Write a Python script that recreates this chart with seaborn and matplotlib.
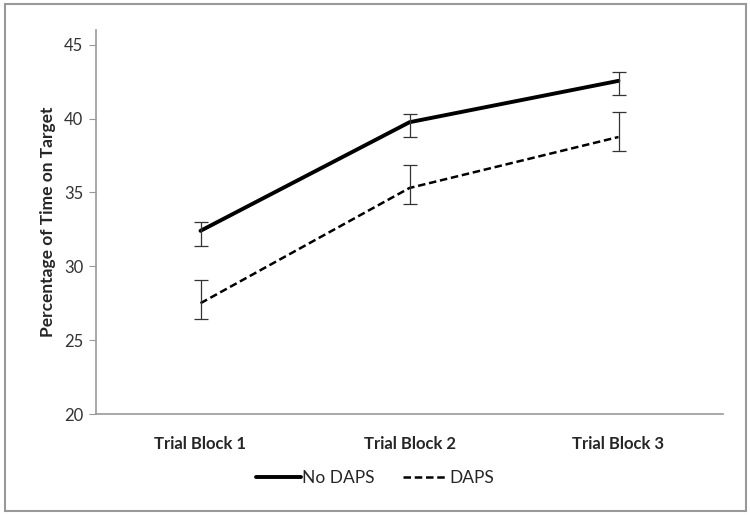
import pandas as pd
import numpy as np
import matplotlib
matplotlib.use('Agg')
import matplotlib.pyplot as plt
import seaborn as sns
from matplotlib.patches import Rectangle
from matplotlib.lines import Line2D

# valores
bloques = ['Trial Block 1', 'Trial Block 2', 'Trial Block 3']
no_daps = [32.4, 39.75, 42.55]
no_daps_bajo = [31.4, 38.75, 41.6]
no_daps_alto = [33.0, 40.3, 43.15]
daps = [27.5, 35.3, 38.75]
daps_bajo = [26.4, 34.2, 37.8]
daps_alto = [29.05, 36.85, 40.45]

df = pd.DataFrame({
    'bloque': bloques * 2,
    'pct': no_daps + daps,
    'grupo': ['No DAPS'] * 3 + ['DAPS'] * 3,
})

sns.set_style('white')
plt.rcParams['font.family'] = ['Lato', 'DejaVu Sans']

fig = plt.figure(figsize=(7.5, 5.15), dpi=100)
ax = fig.add_axes([0.128, 0.196, 0.836, 0.746])

sns.lineplot(data=df, x='bloque', y='pct', style='grupo', color='black',
             dashes={'No DAPS': '', 'DAPS': (3, 1.5)}, legend=False, ax=ax,
             sort=False)
for ln, w in zip(ax.lines, [2.8, 1.8]):
    ln.set_linewidth(w)

x = np.arange(len(bloques))
for med, lo, hi in [(no_daps, no_daps_bajo, no_daps_alto), (daps, daps_bajo, daps_alto)]:
    med = np.array(med)
    yerr = [med - np.array(lo), np.array(hi) - med]
    ax.errorbar(x, med, yerr=yerr, fmt='none', ecolor='#333333', elinewidth=0.9,
                capsize=5, capthick=0.9)

ax.set_xlim(-0.5, 2.5)
ax.set_ylim(20, 46)
ax.set_yticks([20, 25, 30, 35, 40, 45])
ax.set_xlabel('')
ax.set_ylabel('Percentage of Time on Target', fontsize=12.5, fontweight='bold', labelpad=6)
for s in ['top', 'right']:
    ax.spines[s].set_visible(False)
for s in ['left', 'bottom']:
    ax.spines[s].set_color('#999999')
    ax.spines[s].set_linewidth(1.2)
ax.tick_params(axis='y', left=True, length=5, color='#999999', labelsize=12,
               labelcolor='#333333', pad=4)
ax.tick_params(axis='x', bottom=False, labelsize=12, pad=12)
for t in ax.get_xticklabels():
    t.set_fontweight('bold')

handles = [Line2D([], [], color='black', lw=2.8),
           Line2D([], [], color='black', lw=1.8, dashes=(3, 1.5))]
fig.legend(handles, ['No DAPS', 'DAPS'], loc='center', bbox_to_anchor=(0.5, 0.072),
           ncol=2, frameon=False, fontsize=12.5, handlelength=2.6, handletextpad=0.1,
           columnspacing=1.6)

fig.patches.append(Rectangle((0.006, 0.008), 0.988, 0.984, transform=fig.transFigure,
                             fill=False, edgecolor='#999999', linewidth=1.5))

fig.savefig('out.png', dpi=100)
